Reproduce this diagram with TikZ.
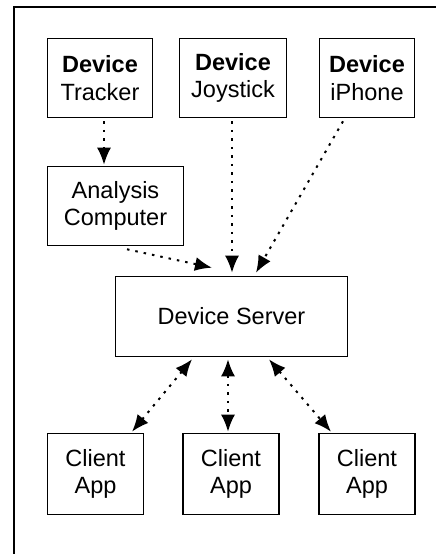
\documentclass[tikz,border=0pt]{standalone}
\usepackage{fontspec}
\setmainfont{Liberation Sans}
\usetikzlibrary{arrows,arrows.meta,positioning}

\begin{document}
\begin{tikzpicture}[
		x=1pt,y=-1pt,
		box/.style={
			draw,
			line width=1.6pt,
			inner sep=0pt,
			align=center,
			minimum height=79pt,
			font=\fontsize{23.5}{27.5}\selectfont
		},
		link/.style={
			line width=2pt,
			dash pattern=on 2.5pt off 6pt
		},
		>={Latex[length=17pt,width=14pt]}
		]
		\useasboundingbox (0,0) rectangle (436,554);
		% frame
		\draw[line width=2pt] (13.5,554) -- (13.5,6.5) -- (436,6.5);
		% devices
		\node[box,minimum width=105pt] (tracker) at (100,78) {\textbf{Device}\\Tracker};
		\node[box,minimum width=107pt] (joystick) at (233,78) {\textbf{Device}\\Joystick};
		\node[box,minimum width=95pt] (iphone) at (367,78) {\textbf{Device}\\iPhone};
		\node[box,minimum width=136pt] (analysis) at (115.5,206) {Analysis\\Computer};
		\node[box,minimum width=232pt,minimum height=80pt] (server) at (231.5,316.5) {Device Server};
		% clients
		\foreach \cl/\cx in {1/95.5,2/231,3/367}
			\node[box,minimum width=96pt,minimum height=81pt] (client\cl) at (\cx,474) {Client\\App};
		% Device -> Analysis
		\draw[link,->] ([xshift=4pt,yshift=-3pt]tracker.south) -- ([xshift=-11.5pt,yshift=1pt]analysis.north);
		% Inputs -> Server
		\draw[link,->] ([xshift=11.5pt,yshift=-3pt]analysis.south) -- ([xshift=-19.5pt,yshift=8pt]server.north);
		\draw[link,->] ([xshift=-1pt,yshift=-3pt]joystick.south) -- ([xshift=0.5pt,yshift=3pt]server.north);
		\draw[link,->] ([xshift=-24pt,yshift=-3pt]iphone.south) -- ([xshift=24.5pt,yshift=3pt]server.north);
		% Server <-> Clients
		\foreach \cl/\sx/\ex in {1/-39.5/36.5,2/-3.5/-3,3/37.5/-36}
			\draw[link,<->] ([xshift=\sx pt,yshift=-2pt]server.south) -- ([xshift=\ex pt,yshift=1pt]client\cl.north);
\end{tikzpicture}
\end{document}
